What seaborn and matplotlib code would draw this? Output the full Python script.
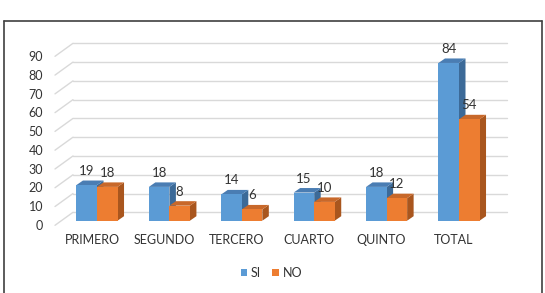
import matplotlib
matplotlib.use('Agg')
import matplotlib.pyplot as plt
import matplotlib.transforms as mtransforms
from matplotlib.patches import Polygon
from matplotlib.lines import Line2D
import seaborn as sns
import pandas as pd

# ---- data ----
categories = ['PRIMERO', 'SEGUNDO', 'TERCERO', 'CUARTO', 'QUINTO', 'TOTAL']
si_values = [19, 18, 14, 15, 18, 84]
no_values = [18, 8, 6, 10, 12, 54]
series_names = ['SI', 'NO']
y_ticks = [0, 10, 20, 30, 40, 50, 60, 70, 80, 90]

# ---- styles ----
front_colors = {'SI': '#5B9BD5', 'NO': '#ED7D31'}
top_colors = {'SI': '#4A7DB3', 'NO': '#C8682A'}
side_colors = {'SI': '#3C6A98', 'NO': '#A9561E'}
TEXT = '#333333'

W, H = 545, 293
sns.set_style('white')
plt.rcParams['font.family'] = ['Lato', 'DejaVu Sans']

fig = plt.figure(figsize=(W / 100, H / 100), dpi=100)
SLOT_PX = 72.4
AX_LEFT_PX = 97 - 0.5 * SLOT_PX
Y0_PX = 220.7
PLOT_H_PX = 169.0
ax = fig.add_axes([AX_LEFT_PX / W, (H - Y0_PX) / H, 6 * SLOT_PX / W, PLOT_H_PX / H])

df = pd.DataFrame({
    'cat': categories * 2,
    'serie': ['SI'] * len(categories) + ['NO'] * len(categories),
    'val': si_values + no_values,
})
sns.barplot(data=df, x='cat', y='val', hue='serie', order=categories,
            hue_order=series_names, palette=front_colors, saturation=1,
            width=0.567, linewidth=0, ax=ax, legend=True)

ax.set_xlim(-0.5, 5.5)
ax.set_ylim(0, 90)
sns.despine(ax=ax, left=True, bottom=True)
ax.set_xlabel('')
ax.set_ylabel('')

PX_X = 1 / SLOT_PX          # data units per pixel (x)
PX_Y = 90 / PLOT_H_PX       # data units per pixel (y)
DX, DY = 6.5 * PX_X, 4.5 * PX_Y

# 3D faces on every bar, from the bar geometry
zf = {'SI': 3.0, 'NO': 4.0}
for name, cont in zip(series_names, ax.containers):
    for bar in cont:
        x0 = bar.get_x()
        w = bar.get_width()
        h = bar.get_height()
        x1 = x0 + w
        bar.set_zorder(zf[name])
        side = Polygon([(x1, 0), (x1 + DX, DY), (x1 + DX, h + DY), (x1, h)],
                       closed=True, facecolor=side_colors[name], edgecolor='none',
                       zorder=zf[name] - 0.5, clip_on=False)
        top = Polygon([(x0, h), (x0 + DX, h + DY), (x1 + DX, h + DY), (x1, h)],
                      closed=True, facecolor=top_colors[name], edgecolor='none',
                      zorder=zf[name] - 0.5, clip_on=False)
        ax.add_patch(side)
        ax.add_patch(top)
        ax.annotate(f'{h:g}', (x0 + w / 2, h), xytext=(0, 14),
                    textcoords='offset pixels', ha='center', va='center',
                    fontsize=9.5, color=TEXT, zorder=10, annotation_clip=False)

# back-wall gridlines with slanted side-wall lines
off = 8.4 * PX_Y
xb0 = -0.5 + (73 - AX_LEFT_PX) * PX_X
xb1 = -0.5 + (507 - AX_LEFT_PX) * PX_X
xf0 = -0.5 + (55 - AX_LEFT_PX) * PX_X
for v in y_ticks:
    ax.plot([xb0, xb1], [v + off, v + off], color='#D9D9D9', lw=1.0,
            zorder=1, clip_on=False)
    ax.plot([xf0, xb0], [v + off - 13 * PX_Y, v + off], color='#D9D9D9',
            lw=1.0, zorder=1, clip_on=False)

# ticks
ax.set_yticks(y_ticks)
ax.set_yticklabels([str(v) for v in y_ticks])
ax.tick_params(axis='y', length=0, pad=12.8, labelsize=9, labelcolor=TEXT)
ax.tick_params(axis='x', length=0, pad=9.8, labelsize=9, labelcolor=TEXT)
ysh = mtransforms.ScaledTranslation(0, -4.3 / 100, fig.dpi_scale_trans)
for t in ax.yaxis.get_major_ticks():
    t.label1.set_transform(t.label1.get_transform() + ysh)
xsh = mtransforms.ScaledTranslation(-5 / 100, 0, fig.dpi_scale_trans)
for t in ax.xaxis.get_major_ticks():
    t.label1.set_transform(t.label1.get_transform() + xsh)

# legend
sns.move_legend(ax, 'center', bbox_to_anchor=(271.5 / W, 1 - 273 / H),
                bbox_transform=fig.transFigure, ncol=2, frameon=False, title=None,
                handlelength=0.5, handleheight=0.5, handletextpad=0.3,
                columnspacing=0.9, fontsize=9, labelcolor=TEXT)

# chart border (left, top, right)
ytop = 1 - 20.7 / H
for xs, ys in [([3.5 / W, 3.5 / W], [0, ytop]),
               ([3.5 / W, 541.5 / W], [ytop, ytop]),
               ([541.5 / W, 541.5 / W], [ytop, 0])]:
    fig.add_artist(Line2D(xs, ys, transform=fig.transFigure, color='#404040', lw=1.2))

fig.savefig('out.png', dpi=100)
